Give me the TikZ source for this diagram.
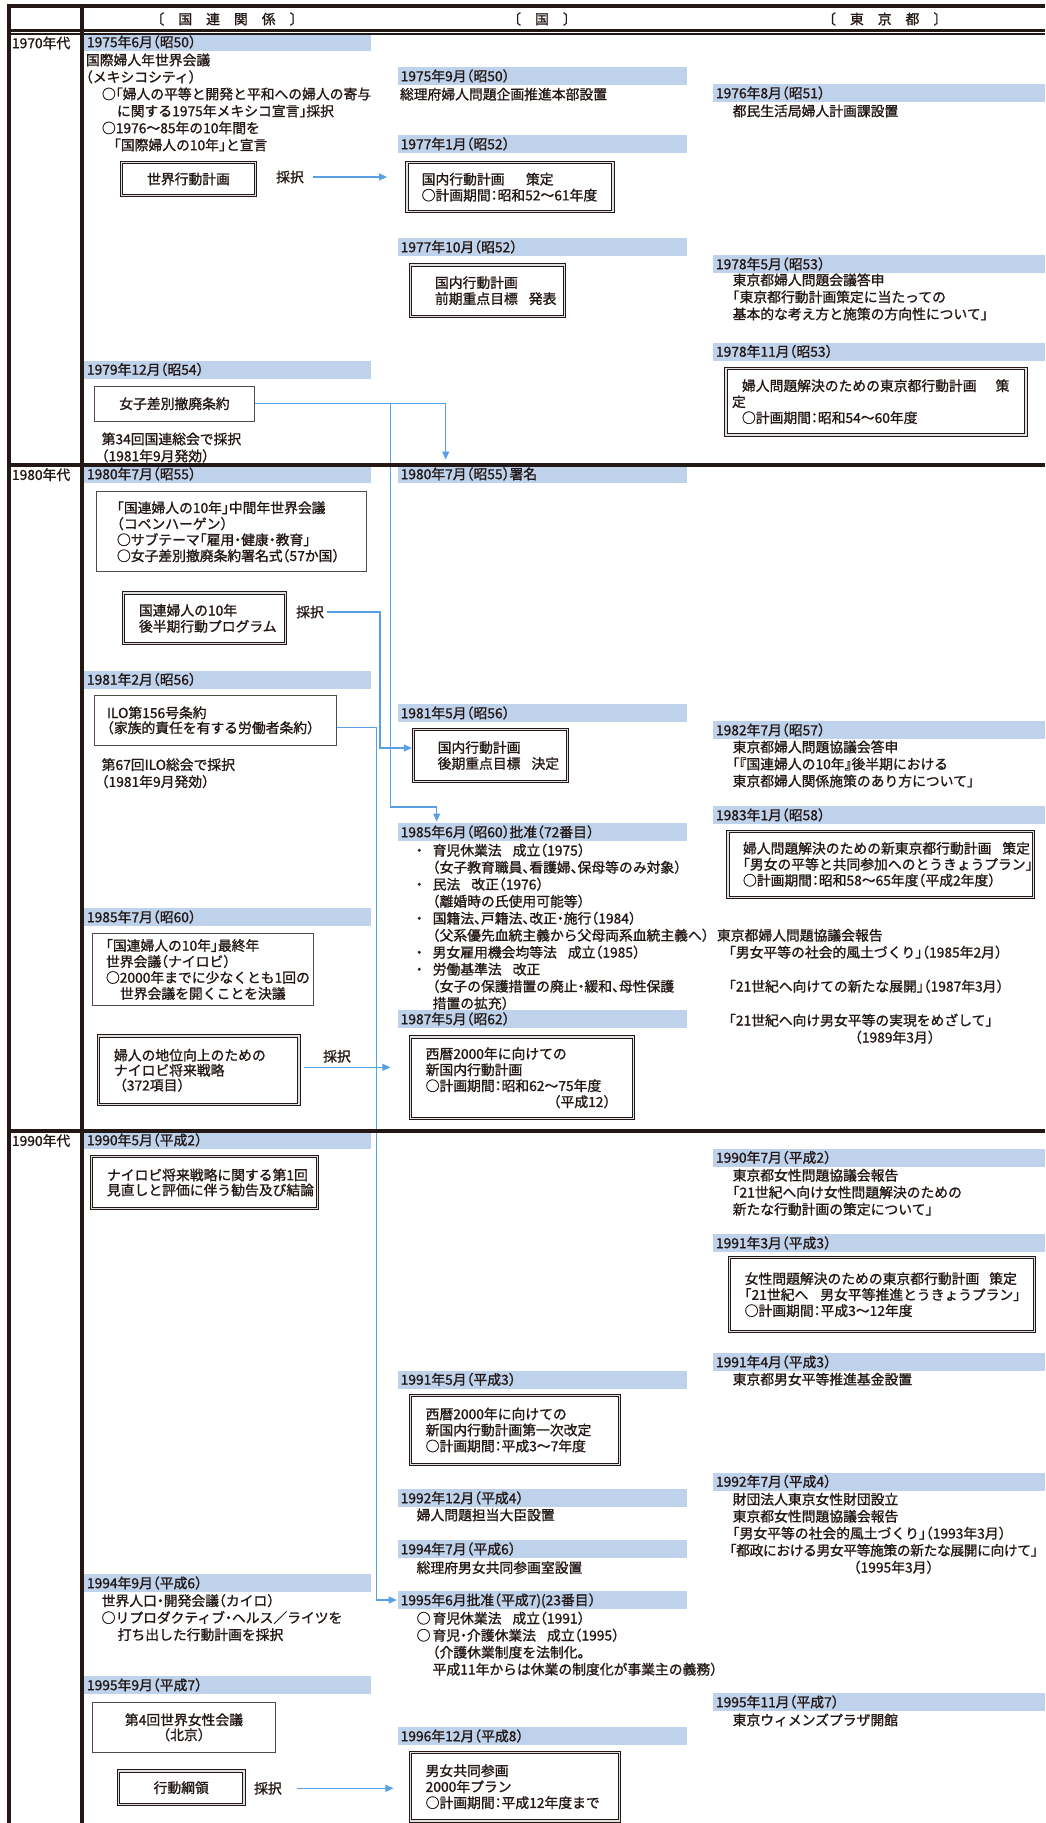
\documentclass[tikz,border=0pt]{standalone}
\usepackage{fontspec}
\setmainfont{Noto Sans CJK JP}[RawFeature=+halt,FakeBold=1.2]
\usetikzlibrary{arrows.meta}
\definecolor{barblue}{RGB}{190,210,236}
\definecolor{linkblue}{RGB}{88,160,230}
\definecolor{ink}{RGB}{35,24,21}
\newcommand\jp{\fontsize{13.8pt}{17pt}\selectfont\lineskiplimit=-30pt\relax}
\newcommand\jpb{\fontsize{13.8pt}{16pt}\selectfont\lineskiplimit=-30pt\relax}
\newcommand\jpc{\fontsize{13.8pt}{15pt}\selectfont\lineskiplimit=-30pt\relax}
\newcommand\bl{\makebox[0pt][r]{・\hspace*{10pt}}}
\newcommand\hs{\hspace*{14pt}}
\begin{document}
\begin{tikzpicture}[x=1pt,y=-1pt,
 every node/.style={inner sep=0pt,outer sep=0pt,font=\jp,text=ink},
 txt/.style={align=left,anchor=base west},
 lbl/.style={anchor=base},
 datebar/.style={fill=barblue,anchor=north west,minimum height=18pt,text height=12.4pt,text depth=2pt,inner xsep=3pt,inner ysep=0pt,align=left},
 bara/.style={datebar,text width=280.7pt},
 barb/.style={datebar,text width=283.3pt},
 barc/.style={datebar,text width=326pt},
 dbox/.style={draw=ink,line width=1.1pt,double=black!12,double distance=1.2pt,anchor=north west,font=\jpb},
 sbox/.style={draw=black!70,line width=1pt,anchor=north west,font=\jpb},
 lbox/.style={align=left,inner ysep=0pt},
 cbox/.style={align=center},
 conn/.style={draw=linkblue,line width=1.1pt},
 arr/.style={conn,-{Triangle[length=8pt,width=7pt]}},
 rulestyle/.style={draw=ink,line cap=butt}
]
\fill[white] (0,0) rectangle (1045,1823);
\useasboundingbox (0,0) rectangle (1045,1823);

% ---------- date bars ----------
\node[bara] (b75a) at (84,33) {1975年6月（昭50）};
\node[bara] (b79a) at (84,360.5) {1979年12月（昭54）};
\node[bara] (b80a) at (84,465) {1980年7月（昭55）};
\node[bara] (b81a) at (84,670.5) {1981年2月（昭56）};
\node[bara] (b85a) at (84,908) {1985年7月（昭60）};
\node[bara] (b90a) at (84,1131) {1990年5月（平成2）};
\node[bara] (b94a) at (84,1574) {1994年9月（平成6）};
\node[bara] (b95a) at (84,1676) {1995年9月（平成7）};

\node[barb] (b75b) at (397.7,67) {1975年9月（昭50）};
\node[barb] (b77a) at (397.7,135) {1977年1月（昭52）};
\node[barb] (b77b) at (397.7,238) {1977年10月（昭52）};
\node[barb] (b80b) at (397.7,465) {1980年7月（昭55）署名};
\node[barb] (b81b) at (397.7,704) {1981年5月（昭56）};
\node[barb] (b85b) at (397.7,823) {1985年6月（昭60）批准（72番目）};
\node[barb] (b87b) at (397.7,1010) {1987年5月（昭62）};
\node[barb] (b91b) at (397.7,1370.5) {1991年5月（平成3）};
\node[barb] (b92b) at (397.7,1489) {1992年12月（平成4）};
\node[barb] (b94b) at (397.7,1540) {1994年7月（平成6）};
\node[barb] (b95b) at (397.7,1591) {1995年6月批准（平成7)(23番目）};
\node[barb] (b96b) at (397.7,1727) {1996年12月（平成8）};

\node[barc] (b76c) at (713,84) {1976年8月（昭51）};
\node[barc] (b78c) at (713,255) {1978年5月（昭53）};
\node[barc] (b78d) at (713,342.5) {1978年11月（昭53）};
\node[barc] (b82c) at (713,721) {1982年7月（昭57）};
\node[barc] (b83c) at (713,806) {1983年1月（昭58）};
\node[barc] (b90c) at (713,1148.5) {1990年7月（平成2）};
\node[barc] (b91c) at (713,1234) {1991年3月（平成3）};
\node[barc] (b91d) at (713,1353) {1991年4月（平成3）};
\node[barc] (b92c) at (713,1472.5) {1992年7月（平成4）};
\node[barc] (b95c) at (713,1693) {1995年11月（平成7）};

% ---------- header ----------
\node (h1) at (227,19) {〔\hs 国\hs 連\hs 関\hs 係\hs 〕};
\node (h2) at (542,19) {〔\hs 国\hs 〕};
\node (h3) at (884.7,19) {〔\hs 東\hs 京\hs 都\hs 〕};
\node[txt] (d70) at (12,48.2) {1970年代};
\node[txt] (d80) at (12,479.9) {1980年代};
\node[txt] (d90) at (12,1145.9) {1990年代};

% ---------- column 1 ----------
\node[txt] (t75a) at (86,150.2) {国際婦人年世界会議\\（メキシコシティ）\\\hspace*{16pt}○「婦人の平等と開発と平和への婦人の寄与\\\hspace*{31pt}に関する1975年メキシコ宣言」採択\\\hspace*{16pt}○1976～85年の10年間を\\\hspace*{28pt}「国際婦人の10年」と宣言};
\node[dbox,cbox,minimum width=133.6,minimum height=32.6] (bxsekai) at (121.7,162.7) {世界行動計画};
\node[lbl] (s1) at (290,182.2) {採択};
\node[sbox,cbox,minimum width=160,minimum height=35] (bxjo) at (94.5,386.2) {女子差別撤廃条約};
\node[txt] (t79a) at (101.7,461.2) {第34回国連総会で採択\\（1981年9月発効）};
\node[sbox,lbox,minimum width=270,minimum height=80,inner xsep=20.8pt,text width=228.4pt] (bxcop) at (96.2,491.8) {「国連婦人の10年」中間年世界会議\\（コペンハーゲン）\\○サブテーマ「雇用・健康・教育」\\○女子差別撤廃条約署名式（57か国）};
\node[dbox,lbox,minimum width=161.6,minimum height=50.6,inner xsep=15.3pt,text width=131pt] (bxkohan) at (123.7,593) {国連婦人の10年\\後半期行動プログラム};
\node[lbl] (s2) at (310,617.2) {採択};
\node[sbox,lbox,font=\jpc,minimum width=242,minimum height=50.3,inner xsep=12.5pt,text width=217pt] (bxilo) at (94.5,695.2) {ILO第156号条約\\（家族的責任を有する労働者条約）};
\node[txt] (t81a) at (101.7,786.9) {第67回ILO総会で採択\\（1981年9月発効）};
\node[sbox,lbox,minimum width=221.3,minimum height=72.6,inner xsep=13.8pt,text width=193.7pt] (bxfin) at (92.2,933.2) {「国連婦人の10年」最終年\\世界会議（ナイロビ）\\○2000年までに少なくとも1回の\\\hspace*{14pt}世界会議を開くことを決議};
\node[dbox,lbox,font=\jpc,minimum width=200.6,minimum height=68.6,inner xsep=15.6pt,text width=169.4pt] (bxnai) at (98.4,1036) {婦人の地位向上のための\\ナイロビ将来戦略\\\hspace*{6pt}（372項目）};
\node[lbl] (s3) at (337,1061.5) {採択};
\node[dbox,lbox,font=\jpc,minimum width=225.6,minimum height=52.2,inner xsep=15.3pt,text width=195pt] (bxrev) at (91.7,1156.4) {ナイロビ将来戦略に関する第1回\\見直しと評価に伴う勧告及び結論};
\node[txt] (t94a) at (101.7,1639.9) {世界人口・開発会議（カイロ）\\○リプロダクティブ・ヘルス／ライツを\\\hspace*{16pt}打ち出した行動計画を採択};
\node[sbox,cbox,font=\jpc,minimum width=183.6,minimum height=49.7] (bxbei) at (92.2,1702.5) {第4回世界女性会議\\（北京）};
\node[dbox,cbox,minimum width=125.6,minimum height=33.3] (bxkoryo) at (118.4,1771) {行動綱領};
\node[lbl] (s4) at (268,1793.5) {採択};

% ---------- column 2 ----------
\node[txt] (t75b) at (400,99.5) {総理府婦人問題企画推進本部設置};
\node[dbox,lbox,minimum width=206,minimum height=48.9,inner xsep=14.7pt,text width=176.6pt] (bxk77) at (407,162.7) {国内行動計画\hspace*{21.5pt}策定\\○計画期間：昭和52～61年度};
\node[dbox,lbox,minimum width=154.2,minimum height=51.3,inner xsep=24.6pt,text width=105pt] (bxk77b) at (410.4,265) {国内行動計画\\前期重点目標\hspace*{11pt}発表};
\node[dbox,lbox,minimum width=154.2,minimum height=51.6,inner xsep=24.3pt,text width=105.6pt] (bxk81) at (413.4,729.7) {国内行動計画\\後期重点目標\hspace*{11pt}決定};
\node[txt] (t85b) at (432.7,1008.5) {\bl 育児休業法\hspace*{11pt}成立（1975）\\（女子教育職員、看護婦、保母等のみ対象）\\\bl 民法\hspace*{11pt}改正（1976）\\（離婚時の氏使用可能等）\\\bl 国籍法、戸籍法、改正・施行（1984）\\（父系優先血統主義から父母両系血統主義へ）\\\bl 男女雇用機会均等法\hspace*{11pt}成立（1985）\\\bl 労働基準法\hspace*{11pt}改正\\（女子の保護措置の廃止・緩和、母性保護\\措置の拡充）};
\node[dbox,lbox,minimum width=223.2,minimum height=81.6,inner xsep=15.3pt,text width=192.6pt] (bxk87) at (410.4,1037) {西暦2000年に向けての\\新国内行動計画\\○計画期間：昭和62～75年度\\\hspace*{128pt}（平成12）};
\node[dbox,lbox,minimum width=209.2,minimum height=69.2,inner xsep=15.3pt,text width=178.6pt] (bxk91) at (410.4,1395.4) {西暦2000年に向けての\\新国内行動計画第一次改定\\○計画期間：平成3～7年度};
\node[txt] (t92b) at (416.7,1520.2) {婦人問題担当大臣設置};
\node[txt] (t94b) at (416.7,1572.9) {総理府男女共同参画室設置};
\node[txt] (t95b) at (416.7,1674.5) {○\hspace*{2pt}育児休業法\hspace*{11pt}成立（1991）\\○\hspace*{2pt}育児・介護休業法\hspace*{11pt}成立（1995）\\\hspace*{16pt}（介護休業制度を法制化。\\\hspace*{16pt}平成11年からは休業の制度化が事業主の義務）};
\node[dbox,lbox,minimum width=209.2,minimum height=68.6,inner xsep=15.3pt,text width=178.6pt] (bxplan) at (410.4,1752.4) {男女共同参画\\2000年プラン\\○計画期間：平成12年度まで};

% ---------- column 3 ----------
\node[txt] (t76c) at (732.7,116.2) {都民生活局婦人計画課設置};
\node[txt] (t78c) at (732.7,319.2) {東京都婦人問題会議答申\\「東京都行動計画策定に当たっての\\基本的な考え方と施策の方向性について」};
\node[dbox,lbox,minimum width=300,minimum height=66.6,inner xsep=6pt,text width=288pt] (bxt78) at (726,368.4) {\hspace*{10pt}婦人問題解決のための東京都行動計画\hspace*{19pt}策\\定\\\hspace*{10pt}○計画期間：昭和54～60年度};
\node[txt] (t82c) at (732.7,786.2) {東京都婦人問題協議会答申\\「『国連婦人の10年』後半期における\\東京都婦人関係施策のあり方について」};
\node[dbox,lbox,minimum width=305.6,minimum height=65.9,inner xsep=15pt,text width=275.6pt] (bxt83) at (728,831.4) {婦人問題解決のための新東京都行動計画\hspace*{11pt}策定\\「男女の平等と共同参加へのとうきょうプラン」\\○計画期間：昭和58～65年度（平成2年度）};
\node[txt] (t85c) at (717,1042.5) {東京都婦人問題協議会報告\\\hspace*{12pt}「男女平等の社会的風土づくり」（1985年2月）\\[17pt]\hspace*{12pt}「21世紀へ向けての新たな展開」（1987年3月）\\[17pt]\hspace*{12pt}「21世紀へ向け男女平等の実現をめざして」\\\hspace*{138pt}（1989年3月）};
\node[txt] (t90c) at (732.7,1214.5) {東京都女性問題協議会報告\\「21世紀へ向け女性問題解決のための\\新たな行動計画の策定について」};
\node[dbox,lbox,minimum width=305.2,minimum height=73.9,inner xsep=15.3pt,text width=274.6pt] (bxt91) at (729.4,1257.7) {女性問題解決のための東京都行動計画\hspace*{10pt}策定\\「21世紀へ\hspace*{12pt}男女平等推進とうきょうプラン」\\○計画期間：平成3～12年度};
\node[txt] (t91c) at (732.7,1384.5) {東京都男女平等推進基金設置};
\node[txt] (t92c) at (732.7,1572.5) {財団法人東京女性財団設立\\東京都女性問題協議会報告\\「男女平等の社会的風土づくり」（1993年3月）\\\hspace*{-3pt}{\addfontfeature{LetterSpace=-3}「都政における男女平等施策の新たな展開に向けて」}\\\hspace*{121pt}（1995年3月）};
\node[txt] (t95c) at (732.7,1725.2) {東京ウィメンズプラザ開館};

% ---------- connectors ----------
\draw[arr,shorten <=9pt,shorten >=20pt] (s1.east) -- (s1.east -| bxk77.west);
\draw[arr,shorten >=5.5pt] (bxjo.east) -| ([xshift=48pt]b80b.north west);
\coordinate (jx) at ([xshift=-7pt]b80b.north west);
\coordinate (kx) at ([xshift=39pt,yshift=16pt]b85b.north west);
\draw[arr,shorten >=1.5pt] (jx |- bxjo.east) |- (kx) -- (kx |- b85b.north);
\coordinate (c3x) at ([xshift=-33.4pt,yshift=7.5pt]bxk81.west);
\draw[arr,shorten <=3pt,shorten >=1.5pt] (s2.east) -| (c3x) -- (c3x -| bxk81.west);
\coordinate (c4s) at ([yshift=-7pt]bxilo.east);
\coordinate (c4x) at ([xshift=-21pt]b95b.west);
\draw[arr,shorten >=1pt] (c4s) -| (c4x) -- (b95b.west);
\coordinate (c5s) at ([yshift=3pt]bxnai.east);
\draw[arr,shorten <=5pt,shorten >=20pt] (c5s) -- (c5s -| bxk87.west);
\draw[arr,shorten <=15pt,shorten >=17pt] (s4.east) -- (s4.east -| bxplan.west);

% ---------- frame ----------
\draw[rulestyle,line width=4pt] (7.3,6) -- (1045,6);
\draw[rulestyle,line width=4pt] (9.3,4) -- (9.3,1823);
\draw[rulestyle,line width=4pt] (82,4) -- (82,1823);
\draw[rulestyle,line width=3pt] (7.3,30.8) -- (1045,30.8);
\draw[rulestyle,line width=1.3pt] (7.3,34) -- (1045,34);
\draw[rulestyle,line width=3.4pt] (7.3,465) -- (1045,465);
\draw[rulestyle,line width=3.4pt] (7.3,1131) -- (1045,1131);
\end{tikzpicture}
\end{document}
